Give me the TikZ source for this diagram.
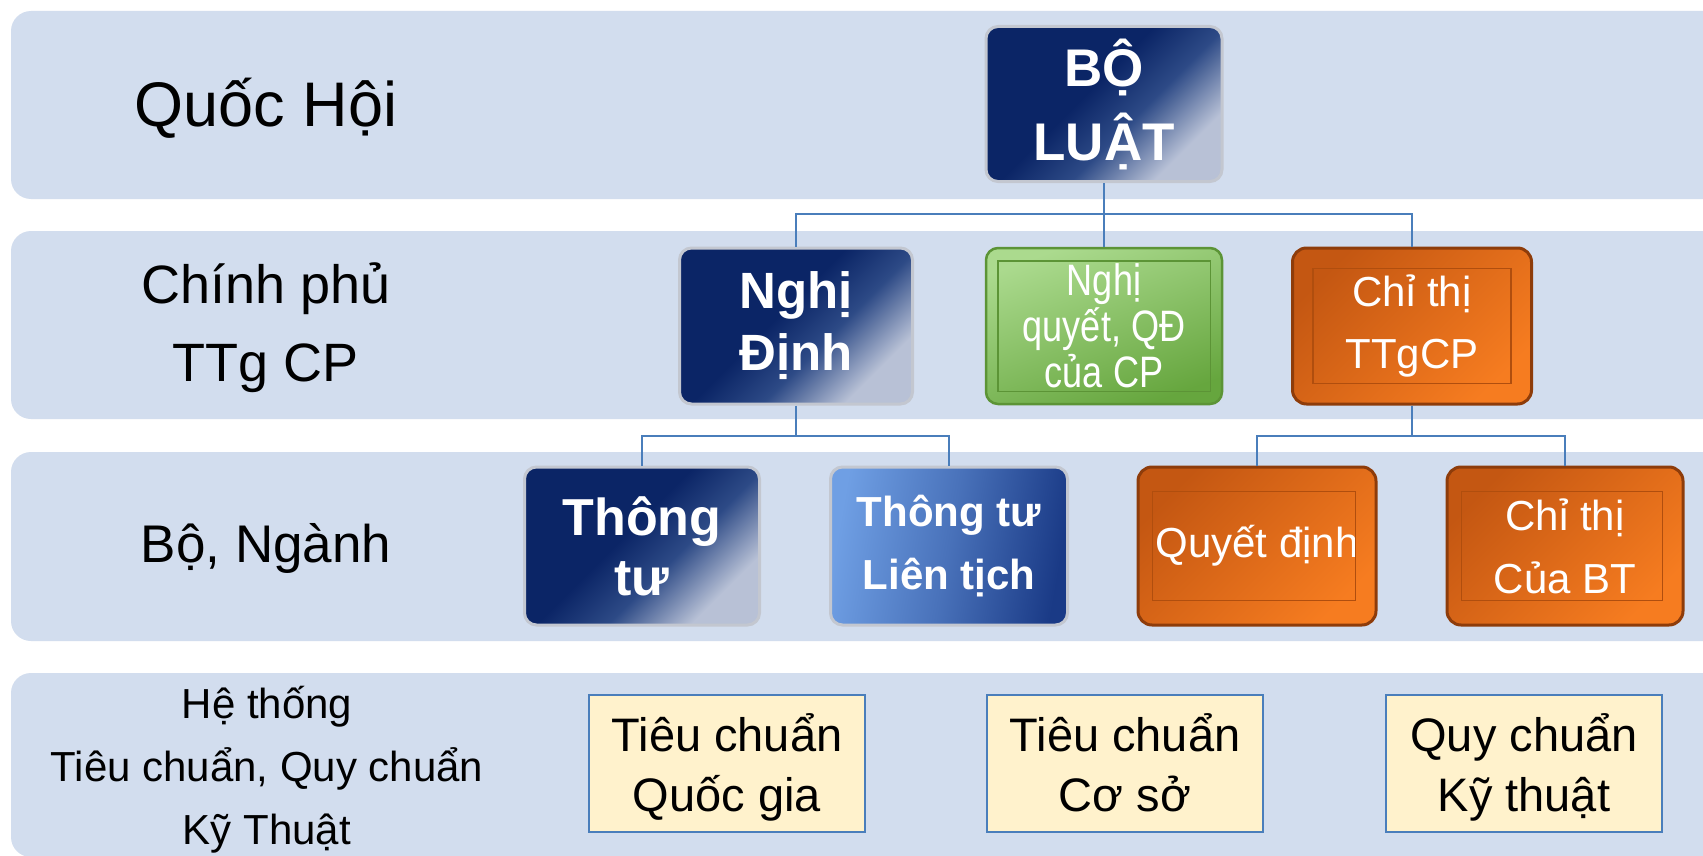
\documentclass[tikz,border=0pt]{standalone}
\usepackage{fontspec}
\setmainfont{Liberation Sans}
\usetikzlibrary{calc}
\definecolor{band}{HTML}{D2DDEE}
\definecolor{conn}{HTML}{4A7EBB}
\definecolor{navyA}{HTML}{0B2566}
\definecolor{navyM}{HTML}{2D4A86}
\definecolor{navyB}{HTML}{B8C1D6}
\definecolor{rim}{HTML}{C3C7D0}
\definecolor{blueA}{HTML}{6F9FE4}
\definecolor{blueB}{HTML}{1A3A86}
\definecolor{greenA}{HTML}{ABDA8E}
\definecolor{greenB}{HTML}{66A63E}
\definecolor{greenE}{HTML}{5C9436}
\definecolor{orA}{HTML}{C45712}
\definecolor{orB}{HTML}{F67C20}
\definecolor{orE}{HTML}{8E3C0A}
\definecolor{orI}{HTML}{B04E0E}
\definecolor{cream}{HTML}{FFF2CC}
\pgfdeclareverticalshading{navyshade}{100bp}{color(0bp)=(navyB); color(27bp)=(navyB); color(42bp)=(navyM); color(55bp)=(navyA); color(100bp)=(navyA)}
\newcommand{\lowtext}[2]{\raisebox{-#1}[\height][\depth]{\begin{tabular}{@{}c@{}}#2\end{tabular}}}
\tikzset{
  fs/.style n args={2}{font=\fontsize{#1}{#2}\selectfont},
  lab/.style={text=black, align=center, inner sep=0},
  navybox/.style={rounded corners=12, draw=rim, line width=3,
    shade, shading=navyshade, shading angle=45,
    text=white, align=center, inner sep=0},
  bluebox/.style={rounded corners=12, draw=rim, line width=3,
    left color=blueA, right color=blueB, middle color=blueA!55!blueB, shading angle=80,
    text=white, align=center, inner sep=0},
  greenbox/.style={rounded corners=12, draw=greenE, line width=2.5,
    top color=greenA, bottom color=greenB, shading angle=20,
    text=white, align=center, inner sep=0},
  orangebox/.style={rounded corners=14, draw=orE, line width=3,
    top color=orA, bottom color=orB, shading angle=45,
    text=white, align=center, inner sep=0},
  creambox/.style={draw=conn, line width=2, fill=cream, text=black, align=center, inner sep=0,
    minimum width=276, minimum height=137},
  innerline/.style={draw=#1, line width=1.5},
  connline/.style={draw=conn, line width=2.5},
}
\begin{document}
\begin{tikzpicture}[x=1pt,y=-1pt]
\useasboundingbox (0,0) rectangle (1703,856);
\fill[white] (0,0) rectangle (1703,856);
% bands
\begin{scope}
\clip (0,0) rectangle (1703,856);
\fill[band, rounded corners=20] (11,11) rectangle (1760,199);
\fill[band, rounded corners=20] (11,231) rectangle (1760,419);
\fill[band, rounded corners=20] (11,452) rectangle (1760,641);
\fill[band, rounded corners=20] (11,673) rectangle (1760,857);
\end{scope}
% left labels
\node[lab, fs={63}{75}] (qh) at (266,108) {Quốc Hội};
\node[lab, fs={54}{78}] (cp) at (266,328) {Chính phủ\\TTg CP};
\node[lab, fs={53}{63}] (bn) at (266,548) {Bộ, Ngành};
\node[lab, fs={42}{63}] (ht) at (267,770) {Hệ thống\\Tiêu chuẩn, Quy chuẩn\\Kỹ Thuật};
% row 1
\node[navybox, minimum width=236, minimum height=155, font=\bfseries\fontsize{53}{74}\selectfont] (law) at (1104,104) {BỘ\\LUẬT};
% row 2
\node[navybox, minimum width=233, minimum height=156, font=\bfseries\fontsize{51}{62}\selectfont] (nd) at (796,326) {Nghị\\Định};
\node[greenbox, minimum width=236, minimum height=156, font=\fontsize{44}{46}\selectfont] (nq) at (1104,326) {\scalebox{0.82}[1]{Nghị}\\\scalebox{0.82}[1]{quyết, QĐ}\\\scalebox{0.82}[1]{của CP}};
\node[orangebox, minimum width=239, minimum height=156, font=\fontsize{42}{62}\selectfont] (ct1) at (1412,326) {Chỉ thị\\TTgCP};
% row 3
\node[navybox, minimum width=235, minimum height=158, font=\bfseries\fontsize{52}{60}\selectfont] (tt) at (642,546) {Thông\\tư};
\node[bluebox, minimum width=237, minimum height=158, font=\bfseries\fontsize{42}{63}\selectfont] (ttlt) at (949,546) {Thông tư\\Liên tịch};
\node[orangebox, minimum width=238, minimum height=158, font=\fontsize{42}{63}\selectfont] (qd) at (1257,546) {Quyết định};
\node[orangebox, minimum width=236, minimum height=158, font=\fontsize{42}{63}\selectfont] (ct2) at (1565,546) {Chỉ thị\\Của BT};
% inner frames
\draw[innerline=greenE] ($(nq.north west)+(13,14)$) rectangle ($(nq.south east)+(-13,-14)$);
\draw[innerline=orI] ($(ct1.north west)+(22,22)$) rectangle ($(ct1.south east)+(-22,-22)$);
\draw[innerline=orI] ($(qd.north west)+(16,26)$) rectangle ($(qd.south east)+(-22,-26)$);
\draw[innerline=orI] ($(ct2.north west)+(16,26)$) rectangle ($(ct2.south east)+(-22,-26)$);
% row 4
\node[creambox, font=\fontsize{47}{60}\selectfont] (tcqg) at (727,763) {\lowtext{6pt}{Tiêu chuẩn\\Quốc gia}};
\node[creambox, font=\fontsize{47}{60}\selectfont] (tccs) at (1125,763) {\lowtext{6pt}{Tiêu chuẩn\\Cơ sở}};
\node[creambox, font=\fontsize{47}{60}\selectfont] (qckt) at (1524,763) {\lowtext{6pt}{Quy chuẩn\\Kỹ thuật}};
% connectors
\coordinate (b1) at (1104,214);
\coordinate (b2) at (796,436);
\coordinate (b3) at (1412,436);
\draw[connline] (law.south) -- (nq.north);
\draw[connline] (b1) -| (nd.north);
\draw[connline] (b1) -| (ct1.north);
\draw[connline] (nd.south) -- (b2);
\draw[connline] (b2) -| (tt.north);
\draw[connline] (b2) -| (ttlt.north);
\draw[connline] (ct1.south) -- (b3);
\draw[connline] (b3) -| (qd.north);
\draw[connline] (b3) -| (ct2.north);
\end{tikzpicture}
\end{document}
